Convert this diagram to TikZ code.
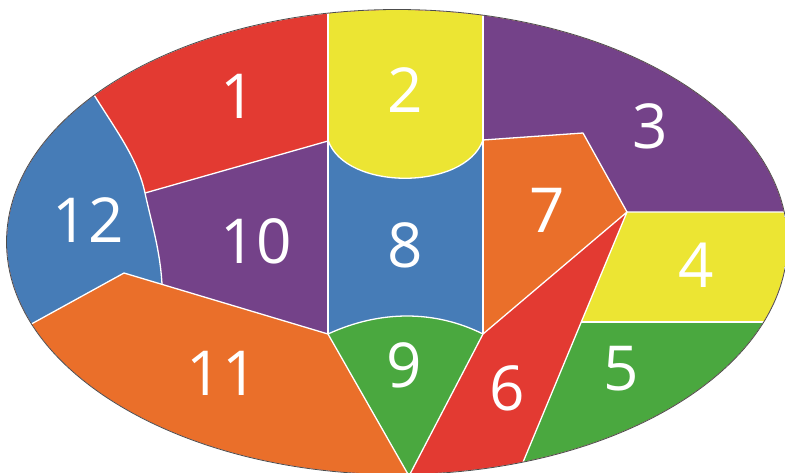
\documentclass[tikz,border=0pt]{standalone}
\usepackage{fontspec}
\setmainfont{Open Sans}
\definecolor{cred}{HTML}{E33A32}
\definecolor{cyellow}{HTML}{ECE533}
\definecolor{cpurple}{HTML}{744289}
\definecolor{cblue}{HTML}{467CB7}
\definecolor{corange}{HTML}{EA6F2A}
\definecolor{cgreen}{HTML}{4AA83F}
\tikzset{
  lab/.style={text=white, inner sep=0pt, font=\fontsize{62}{62}\selectfont},
  border/.style={draw=white, line width=1.3pt, line join=round},
}
\begin{document}
\begin{tikzpicture}[x=1pt,y=-1pt]
\useasboundingbox (0,0) rectangle (785,472);
\clip (0,0) rectangle (785,472);
\begin{scope}
  \clip (397,242) ellipse [x radius=390pt, y radius=232pt];
  % region 1 (background)
  \fill[cred] (-20,-20) rectangle (820,520);
  % region 8
  \fill[cblue] (328,130) rectangle (483,334);
  % region 2
  \fill[cyellow] (328,-20) -- (328,140) .. controls (345,191) and (465,191) .. (483,140) -- (483,-20) -- cycle;
  % region 3
  \fill[cpurple] (483,-20) -- (483,140) -- (583,133) -- (627,212) -- (820,212) -- (820,-20) -- cycle;
  % region 7
  \fill[corange] (483,140) -- (583,133) -- (627,212) -- (483,334) -- cycle;
  % region 4
  \fill[cyellow] (627,212) -- (820,212) -- (820,322) -- (581,322) -- cycle;
  % region 5
  \fill[cgreen] (581,322) -- (820,322) -- (820,520) -- (499,520) -- cycle;
  % region 6
  \fill[cred] (483,334) -- (627,212) -- (499,520) -- (390,510) -- cycle;
  % region 9
  \fill[cgreen] (328,334) .. controls (380,310) and (435,310) .. (483,334) -- (409,476) -- cycle;
  % region 10
  \fill[cpurple] (328,141) -- (145,193) .. controls (152,225) and (160,250) .. (162,284) -- (328,334) -- cycle;
  % region 12
  \fill[cblue] (70,58) -- (96,98) .. controls (118,133) and (138,160) .. (145,193)
     .. controls (152,225) and (160,250) .. (162,284) -- (124,273) -- (35,322) -- (-20,352) -- (-20,58) -- cycle;
  % region 11
  \fill[corange] (-20,352) -- (35,322) -- (124,273) -- (328,334) -- (409,476) -- (409,520) -- (-20,520) -- cycle;
  % borders
  \draw[border] (328,-20) -- (328,334);
  \draw[border] (483,-20) -- (483,334);
  \draw[border] (328,140) .. controls (345,191) and (465,191) .. (483,140);
  \draw[border] (483,140) -- (583,133) -- (627,212) -- (820,212);
  \draw[border] (483,334) -- (627,212) -- (499,520);
  \draw[border] (581,322) -- (820,322);
  \draw[border] (328,334) .. controls (380,310) and (435,310) .. (483,334);
  \draw[border] (328,334) -- (409,476) -- (483,334);
  \draw[border] (409,476) -- (409,520);
  \draw[border] (328,141) -- (145,193);
  \draw[border] (70,58) -- (96,98) .. controls (118,133) and (138,160) .. (145,193)
     .. controls (152,225) and (160,250) .. (162,284);
  \draw[border] (-20,352) -- (35,322) -- (124,273) -- (328,334);
\end{scope}
\draw[black!70, line width=0.8pt] (397,242) ellipse [x radius=390.5pt, y radius=232.5pt];
\node[lab] (l1) at (238,96) {1};
\node[lab] (l2) at (405,90) {2};
\node[lab] (l3) at (650,126) {3};
\node[lab] (l4) at (696,265) {4};
\node[lab] (l5) at (621,369) {5};
\node[lab] (l6) at (507,388) {6};
\node[lab] (l7) at (547,210) {7};
\node[lab] (l8) at (405,245) {8};
\node[lab] (l9) at (404,365) {9};
\node[lab] (l10) at (256,241) {10};
\node[lab] (l11) at (222,373) {11};
\node[lab] (l12) at (88,220) {12};
\end{tikzpicture}
\end{document}
